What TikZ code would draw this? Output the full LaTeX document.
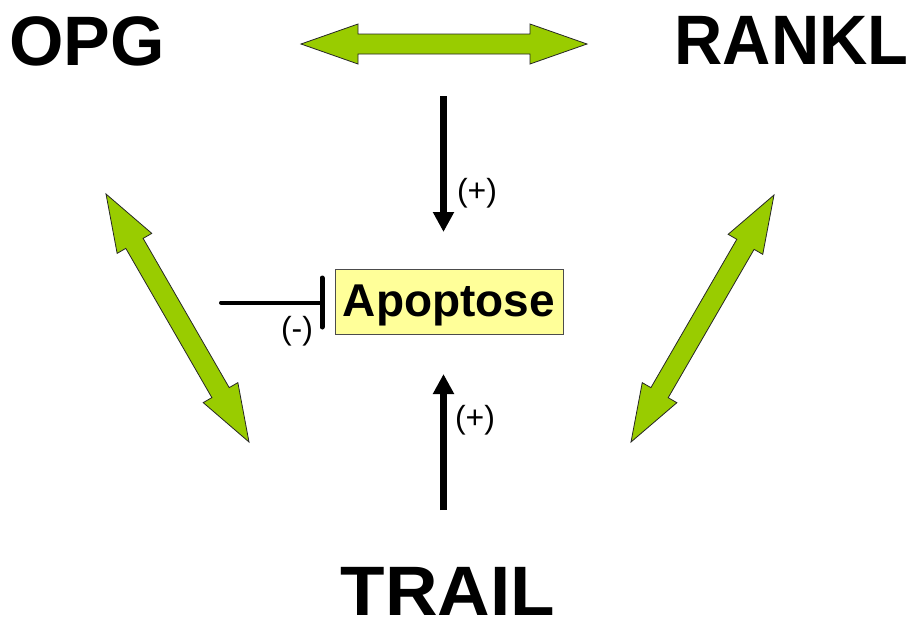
\documentclass[tikz,border=0pt]{standalone}
\usepackage{fontspec}
\setmainfont{Liberation Sans}
\usetikzlibrary{calc,arrows.meta}
\definecolor{agreen}{HTML}{99CC00}
\definecolor{boxyellow}{HTML}{FFFF99}
\tikzset{
  garrow/.style={fill=agreen, draw=black!85, line width=0.8pt, line join=miter},
  bigtext/.style={inner sep=0pt, anchor=base, font=\fontsize{70}{84}\selectfont\bfseries},
  plustext/.style={inner sep=0pt, font=\fontsize{32}{38}\selectfont},
  apobox/.style={draw=black!70, line width=0.8pt, fill=boxyellow, minimum width=228pt, minimum height=65pt, inner sep=0pt},
  apotext/.style={inner sep=0pt, font=\fontsize{46}{54}\selectfont\bfseries},
  blackarrow/.style={line width=7pt, -{Triangle[length=20pt,width=20pt]}},
  inhib/.style={line width=4pt, line cap=round}
}
\newcommand\greenarr[2]{%
  \draw[garrow] (#1)
    -- ($(#1)!57pt!(#2)!20pt!90:(#2)$)
    -- ($(#1)!57pt!(#2)!10pt!90:(#2)$)
    -- ($(#2)!57pt!(#1)!10pt!-90:(#1)$)
    -- ($(#2)!57pt!(#1)!20pt!-90:(#1)$)
    -- (#2)
    -- ($(#2)!57pt!(#1)!20pt!90:(#1)$)
    -- ($(#2)!57pt!(#1)!10pt!90:(#1)$)
    -- ($(#1)!57pt!(#2)!10pt!-90:(#2)$)
    -- ($(#1)!57pt!(#2)!20pt!-90:(#2)$)
    -- cycle;}
\begin{document}
\begin{tikzpicture}[x=1pt,y=-1pt]
\useasboundingbox (0,0) rectangle (911,619);
% labels
\node[bigtext] (opg) at (87,65) {OPG};
\node[bigtext, xscale=0.955] (rankl) at (791.5,64) {RANKL};
\node[bigtext, xscale=1.04] (trail) at (448,615) {TRAIL};
\node[apobox] (apo) at (449.5,301.7) {};
\node[apotext] (apot) at (449,305) {Apoptose};
% green double arrows
\coordinate (g1a) at (301,44);  \coordinate (g1b) at (587,44);
\coordinate (g2a) at (106,194); \coordinate (g2b) at (249,442);
\coordinate (g3a) at (774,195); \coordinate (g3b) at (631,442);
\greenarr{g1a}{g1b}
\greenarr{g2a}{g2b}
\greenarr{g3a}{g3b}
% black arrows
\coordinate (d1) at (443.5,96);  \coordinate (d2) at (443.5,232);
\coordinate (u1) at (443.5,510); \coordinate (u2) at (443.5,374);
\draw[blackarrow] (d1) -- (d2);
\draw[blackarrow] (u1) -- (u2);
\node[plustext] (p1) at (477,193) {(+)};
\node[plustext] (p2) at (475,420) {(+)};
% inhibition
\coordinate (i1) at (221,302.5); \coordinate (i2) at (322,302.5);
\coordinate (b1) at (322,278); \coordinate (b2) at (322,327);
\draw[inhib] (i1) -- (i2);
\draw[line width=5pt, line cap=round] (b1) -- (b2);
\node[plustext] (m1) at (297,331) {(-)};
\end{tikzpicture}
\end{document}
